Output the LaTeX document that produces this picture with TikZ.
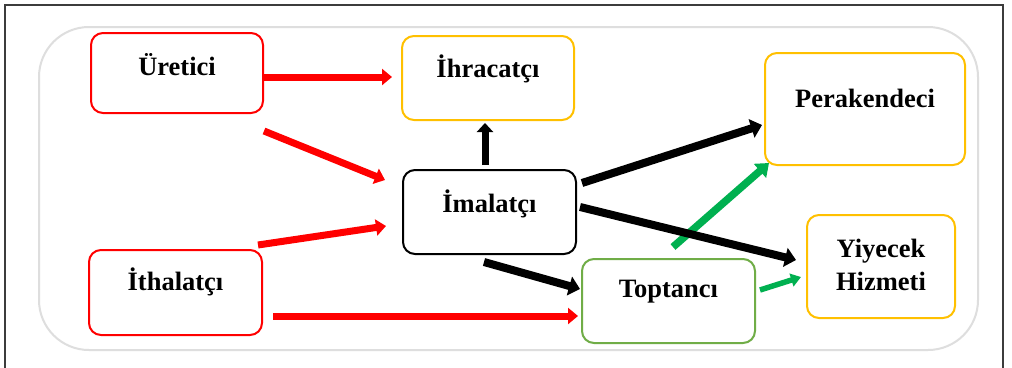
\documentclass[tikz,border=0pt]{standalone}
\usepackage{fontspec}
\setmainfont{Liberation Serif}
\usetikzlibrary{arrows.meta}
\definecolor{cred}{RGB}{255,0,0}
\definecolor{cgold}{RGB}{255,192,0}
\definecolor{cgbox}{RGB}{112,173,71}
\definecolor{cgarr}{RGB}{0,176,80}
\definecolor{cframe}{RGB}{60,60,60}
\definecolor{cpanel}{RGB}{222,222,222}
\tikzset{
  box/.style={draw, line width=2pt, rounded corners=12pt, inner sep=0pt},
  lbl/.style={anchor=base, inner sep=0pt, font=\fontsize{26.5}{33}\selectfont\bfseries},
  redarr/.style={draw=cred, line width=7pt, -{Triangle[width=16pt,length=10pt]}},
  blkarr/.style={draw=black, line width=8pt, -{Triangle[width=19pt,length=11pt]}},
  blkarrs/.style={draw=black, line width=7pt, -{Triangle[width=16pt,length=9pt]}},
  grnarr/.style={draw=cgarr, line width=7.5pt, -{Triangle[width=18pt,length=12pt]}},
  grnarrs/.style={draw=cgarr, line width=5.5pt, -{Triangle[width=13pt,length=10pt]}},
}
\begin{document}
\begin{tikzpicture}[x=1pt,y=-1pt]
\useasboundingbox (0,0) rectangle (1012,367);
\fill[white] (0,0) rectangle (1012,367);
\draw[cframe, line width=1.5pt] (5,5) rectangle (1003,380);
\draw[cpanel, line width=2pt, rounded corners=50pt] (39,27) rectangle (978,350);

\node[box, draw=cred, minimum width=172pt, minimum height=80pt] (u) at (177,73) {};
\node[box, draw=cgold, minimum width=172pt, minimum height=84pt] (ih) at (488,78) {};
\node[box, draw=cgold, minimum width=200pt, minimum height=112pt] (p) at (865,109) {};
\node[box, draw=black, minimum width=173pt, minimum height=84pt] (im) at (489.5,212) {};
\node[box, draw=cred, minimum width=173pt, minimum height=85pt] (it) at (175.5,292.5) {};
\node[box, draw=cgbox, minimum width=173pt, minimum height=84pt] (t) at (668.5,301) {};
\node[box, draw=cgold, minimum width=148pt, minimum height=103pt] (y) at (881,266.5) {};

\node[lbl] (ut) at (177,75) {Üretici};
\node[lbl] (iht) at (488,77) {İhracatçı};
\node[lbl] (pt) at (865,107) {Perakendeci};
\node[lbl] (imt) at (489.5,212) {İmalatçı};
\node[lbl] (itt) at (175.5,290) {İthalatçı};
\node[lbl] (tt) at (668.5,297) {Toptancı};
\node[lbl] (yt1) at (881,257) {Yiyecek};
\node[lbl] (yt2) at (881,290) {Hizmeti};

\coordinate (a1s) at (u.east |- 0,77); \coordinate (a1e) at (392,77);
\coordinate (a2s) at (264,131); \coordinate (a2e) at (385,180);
\coordinate (a3s) at (258,245); \coordinate (a3e) at (386,226);
\coordinate (a4s) at (273,316); \coordinate (a4e) at (578,316);
\coordinate (b1s) at (485,165); \coordinate (b1e) at (485,123);
\coordinate (b2s) at (582,183); \coordinate (b2e) at (762,125);
\coordinate (b3s) at (580,207); \coordinate (b3e) at (796,260);
\coordinate (b4s) at (484,262); \coordinate (b4e) at (580,289);
\coordinate (g1s) at (673,247); \coordinate (g1e) at (769,163);
\coordinate (g2s) at (760,290); \coordinate (g2e) at (801,277);

\draw[redarr] (a1s) -- (a1e);
\draw[redarr] (a2s) -- (a2e);
\draw[redarr] (a3s) -- (a3e);
\draw[redarr] (a4s) -- (a4e);
\draw[grnarr] (g1s) -- (g1e);
\draw[blkarrs] (b1s) -- (b1e);
\draw[blkarr] (b2s) -- (b2e);
\draw[blkarr] (b3s) -- (b3e);
\draw[blkarr] (b4s) -- (b4e);
\draw[grnarrs] (g2s) -- (g2e);
\end{tikzpicture}
\end{document}
